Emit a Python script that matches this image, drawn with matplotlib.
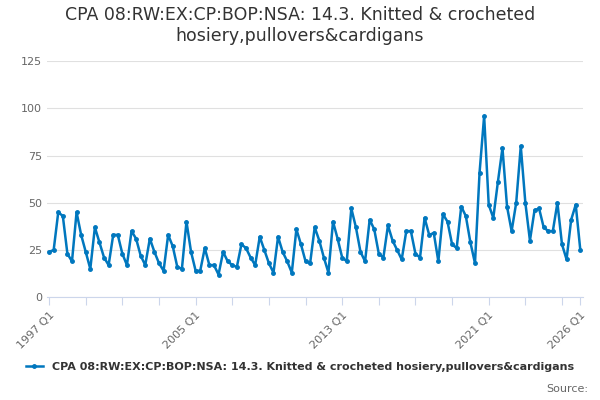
import matplotlib.pyplot as plt

values = [24, 25, 45, 43, 23, 19, 45, 33, 24, 15, 37, 29, 21, 17, 33, 33,
          23, 17, 35, 31, 22, 17, 31, 24, 18, 14, 33, 27, 16, 15, 40, 24,
          14, 14, 26, 17, 17, 12, 24, 19, 17, 16, 28, 26, 21, 17, 32, 25,
          18, 13, 32, 24, 19, 13, 36, 28, 19, 18, 37, 30, 21, 13, 40, 31,
          21, 19, 47, 37, 24, 19, 41, 36, 23, 21, 38, 30, 25, 20, 35, 35,
          23, 21, 42, 33, 34, 19, 44, 40, 28, 26, 48, 43, 29, 18, 66, 96,
          49, 42, 61, 79, 48, 35, 50, 80, 50, 30, 46, 47, 37, 35, 35, 50,
          28, 20, 41, 49, 25]
labels = [f"{1997 + i // 4} Q{i % 4 + 1}" for i in range(len(values))]
shown = ["1997 Q1", "2005 Q1", "2013 Q1", "2021 Q1", "2026 Q1"]
name = "CPA 08:RW:EX:CP:BOP:NSA: 14.3. Knitted & crocheted hosiery,pullovers&cardigans"

fig = plt.figure(figsize=(6, 4), dpi=100)
ax = fig.add_axes([0.078, 0.257, 0.893, 0.59])
x = list(range(len(values)))
line, = ax.plot(x, values, color="#0077be", lw=1.8, marker="o", ms=2.5)
ax.set_ylim(0, 125)
ax.set_xlim(-0.5, len(values) - 0.5)
ax.set_yticks([0, 25, 50, 75, 100, 125])
ax.grid(axis="y", color="#e0e0e0", lw=0.8)
ax.set_axisbelow(True)
ticks = list(range(0, len(values), 8)) + [len(values) - 1]
ax.set_xticks(ticks)
ax.set_xticklabels([labels[t] if labels[t] in shown else "" for t in ticks],
                   rotation=45, ha="right", rotation_mode="anchor")
ax.tick_params(axis="x", colors="#ccd6eb", labelcolor="#666666", length=6)
ax.tick_params(axis="y", length=0, labelcolor="#666666")
for t in ax.get_xticklabels() + ax.get_yticklabels():
    t.set_fontsize(8)
for s in ["top", "right", "left"]:
    ax.spines[s].set_visible(False)
ax.spines["bottom"].set_color("#ccd6eb")
fig.suptitle("CPA 08:RW:EX:CP:BOP:NSA: 14.3. Knitted & crocheted\nhosiery,pullovers&cardigans",
             y=0.985, fontsize=12.5, color="#333333")
fig.legend([line], [name], loc="lower center", bbox_to_anchor=(0.5, 0.045), frameon=False,
           prop={"size": 8, "weight": "bold"}, handlelength=1.5, labelcolor="#333333")
fig.text(0.98, 0.02, "Source:", ha="right", fontsize=8, color="#666666")
fig.savefig("out.png")
